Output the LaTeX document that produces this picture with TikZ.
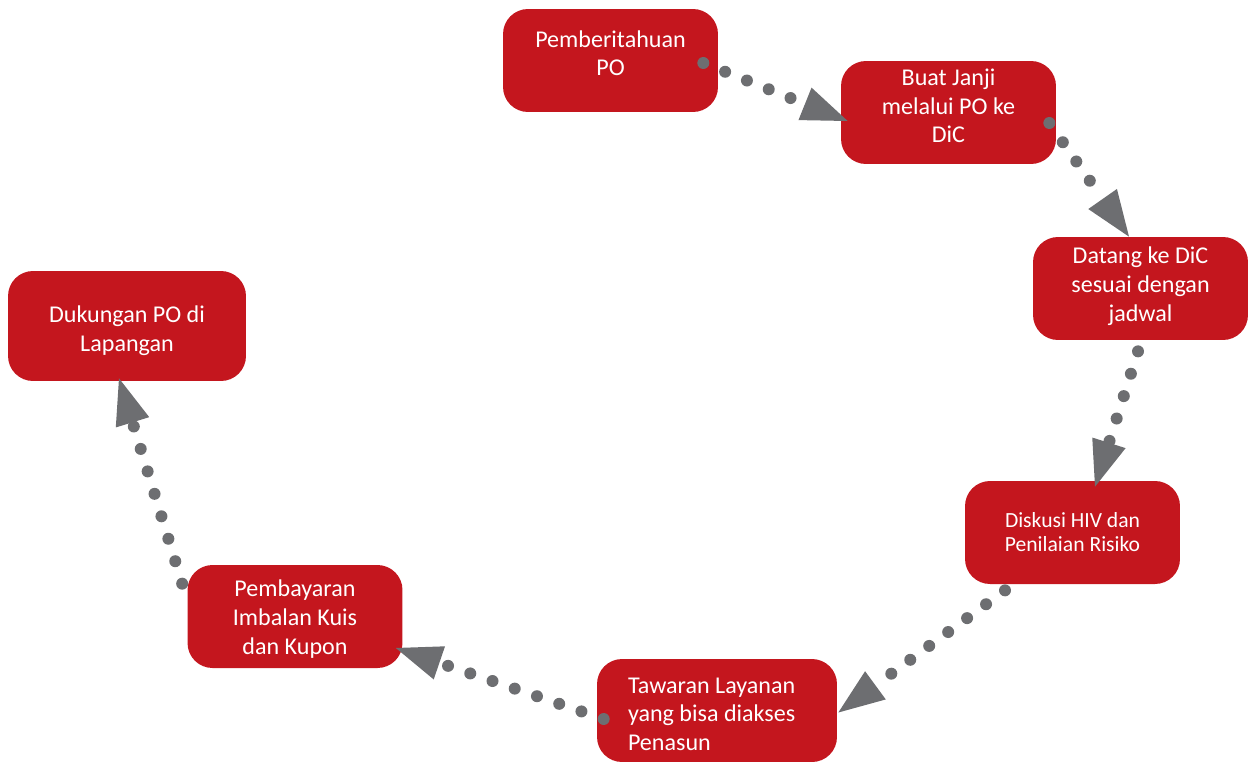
\documentclass[tikz,border=0pt]{standalone}
\usepackage{fontspec}
\setmainfont{Carlito}
\usetikzlibrary{arrows.meta,calc}
\definecolor{boxred}{RGB}{196,22,30}
\definecolor{dotgrey}{RGB}{109,110,113}
\begin{document}
\begin{tikzpicture}[x=0.02cm,y=-0.02cm]
\tikzstyle{every node}+=[inner sep=0pt]
\tikzstyle{stage}=[fill=boxred, rounded corners=0.5cm, text=white, align=center, minimum width=4.3cm, minimum height=2.06cm, text depth=0pt, font=\fontsize{13.7}{16.4}\selectfont]
\tikzstyle{flow}=[dotgrey, line width=0.24cm, line cap=round, dash pattern=on 0pt off 0.47cm, -{Triangle[length=0.92cm,width=0.7cm,line width=0pt]}]
\useasboundingbox (0,0) rectangle (1250,761);
\node [stage, text height=0.62cm] (pemberitahuan) at (610.5,60.5) {Pemberitahuan\\PO};
\node [stage, text height=1.22cm] (janji) at (948.5,112.5) {Buat Janji\\melalui PO ke\\DiC};
\node [stage, text height=1.32cm] (datang) at (1140.5,288.5) {Datang ke DiC\\sesuai dengan\\jadwal};
\node [stage, text height=0.77cm, font=\fontsize{12.3}{13.8}\selectfont] (diskusi) at (1072.5,532.5) {Diskusi HIV dan\\Penilaian Risiko};
\node [stage, text height=0pt, text depth=0.7cm, align=flush left, text width=3.56cm, inner xsep=0.62cm, minimum width=4.8cm] (tawaran) at (717,710.5) {Tawaran Layanan\\yang bisa diakses\\Penasun};
\node [stage, text height=1.5cm] (pembayaran) at (295,616.5) {Pembayaran\\Imbalan Kuis\\dan Kupon};
\node [stage, text height=1cm, minimum width=4.76cm, minimum height=2.2cm] (dukungan) at (127,326) {Dukungan PO di\\Lapangan};
\draw [flow] ($(pemberitahuan.east)+(-15,2.5)$) -- ($(janji.west)+(7,8.5)$);
\draw [flow] ($(janji.east)+(-7,10.5)$) -- ($(datang.north)+(-11.5,0)$);
\draw [flow] ($(datang.south)+(-2.5,11)$) -- ($(diskusi.north)+(22.5,6)$);
\draw [flow] ($(diskusi.south)+(-67.5,6)$) -- ($(tawaran.east)+(1,2)$);
\draw [flow] ($(tawaran.west)+(7,8.5)$) -- ($(pembayaran.east)+(-7,31.5)$);
\draw [flow] ($(pembayaran.north west)+(-5,19)$) -- ($(dukungan.south)+(-8,-3)$);
\end{tikzpicture}
\end{document}
